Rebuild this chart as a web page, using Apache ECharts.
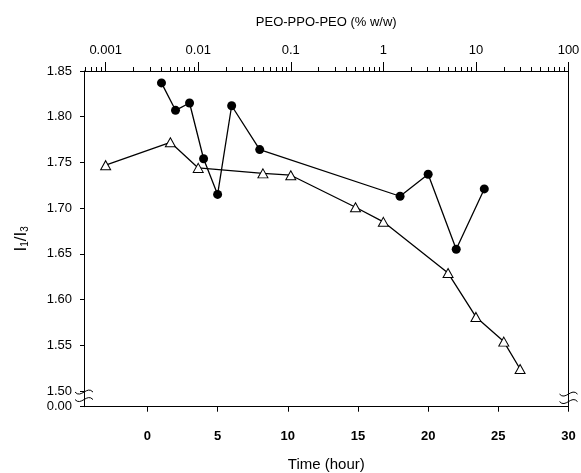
<!DOCTYPE html>
<html><head><meta charset="utf-8">
<script src="https://cdn.jsdelivr.net/npm/echarts@6/dist/echarts.min.js"></script>
<style>html,body{margin:0;padding:0;background:#fff}#c{width:581px;height:473px}</style>
</head><body><div id="c"></div>
<script>
// Filled circles: I1/I3 vs time (bottom axis)
const timeHours = [1, 2, 3, 4, 5, 6, 8, 18, 20, 22, 24];
const ratioVsTime = [1.837, 1.807, 1.815, 1.754, 1.715, 1.812, 1.764, 1.713, 1.737, 1.655, 1.721];
// Open triangles: I1/I3 vs PEO-PPO-PEO concentration (top log axis)
const concentration = [0.001, 0.005, 0.01, 0.05, 0.1, 0.5, 1, 5, 10, 20, 30];
const ratioVsConc = [1.747, 1.772, 1.744, 1.738, 1.736, 1.701, 1.685, 1.629, 1.581, 1.554, 1.524];
// Tick labels
const timeTicks = [0, 5, 10, 15, 20, 25, 30];
const concTicks = [0.001, 0.01, 0.1, 1, 10, 100];
const ratioTicks = [1.50, 1.55, 1.60, 1.65, 1.70, 1.75, 1.80, 1.85];
const breakLabel = '0.00';

const FONT = 'Liberation Sans, Arial, sans-serif';
const timeMin = -4.52, timeMax = 30;
const logMin = -3.234, logMax = 2;
const yMin = 1.4828, yMax = 1.85;

const majorLog = concTicks.map(c => Math.log10(c));
const minorLog = [];
for (let n = -4; n <= 1; n++) {
  for (let k = 2; k <= 9; k++) {
    const v = Math.log10(k * Math.pow(10, n));
    if (v >= logMin && v <= logMax) minorLog.push(v);
  }
}
const yLabelVals = [yMin].concat(ratioTicks);

const chart = echarts.init(document.getElementById('c'), null, {renderer: 'canvas'});
const option = {
  animation: false,
  backgroundColor: '#fff',
  textStyle: {fontFamily: FONT},
  grid: {left: 84, right: 12.5, top: 71, bottom: 66.3, containLabel: false, outerBoundsMode: 'none'},
  xAxis: [
    {
      type: 'value', position: 'bottom', min: timeMin, max: timeMax,
      axisLine: {show: true, onZero: false, lineStyle: {color: '#000', width: 1}},
      axisTick: {show: true, length: 5, inside: false, customValues: timeTicks, lineStyle: {color: '#000'}},
      axisLabel: {customValues: timeTicks, margin: 23, color: '#000', fontSize: 13, fontWeight: 'bold', fontFamily: FONT},
      splitLine: {show: false},
      name: 'Time (hour)', nameLocation: 'middle', nameGap: 51,
      nameTextStyle: {color: '#000', fontSize: 15, fontFamily: FONT}
    },
    {
      type: 'value', position: 'top', min: logMin, max: logMax,
      axisLine: {show: true, onZero: false, lineStyle: {color: '#000', width: 1}},
      axisTick: {show: true, length: 9, inside: false, customValues: majorLog, lineStyle: {color: '#000'}},
      axisLabel: {
        customValues: majorLog, margin: 14, color: '#000', fontSize: 13, fontFamily: FONT,
        formatter: v => {
          const c = concTicks.find(t => Math.abs(Math.log10(t) - v) < 1e-6);
          return c === undefined ? '' : String(c);
        }
      },
      splitLine: {show: false},
      name: 'PEO-PPO-PEO (% w/w)', nameLocation: 'middle', nameGap: 42,
      nameTextStyle: {color: '#000', fontSize: 13, fontFamily: FONT}
    },
    {
      type: 'value', position: 'top', min: logMin, max: logMax,
      axisLine: {show: false, onZero: false},
      axisTick: {show: true, length: 4, inside: false, customValues: minorLog, lineStyle: {color: '#000'}},
      axisLabel: {show: false},
      splitLine: {show: false}
    }
  ],
  yAxis: [
    {
      type: 'value', position: 'left', min: yMin, max: yMax,
      axisLine: {show: true, onZero: false, lineStyle: {color: '#000', width: 1}},
      axisTick: {show: true, length: 4, inside: false, customValues: yLabelVals, lineStyle: {color: '#000'}},
      axisLabel: {
        customValues: yLabelVals, margin: 12, color: '#000', fontSize: 13, fontFamily: FONT,
        formatter: v => (v < 1.49 ? breakLabel : v.toFixed(2))
      },
      splitLine: {show: false},
      name: '{a|I}{b|1}{a|/I}{b|3}', nameLocation: 'middle', nameRotate: 90, nameGap: 54,
      nameTextStyle: {
        color: '#000', fontFamily: FONT,
        rich: {
          a: {fontSize: 17, lineHeight: 18, color: '#000', fontFamily: FONT},
          b: {fontSize: 10, lineHeight: 10, verticalAlign: 'bottom', color: '#000', fontFamily: FONT}
        }
      }
    },
    {
      type: 'value', position: 'right', min: yMin, max: yMax,
      axisLine: {show: true, onZero: false, lineStyle: {color: '#000', width: 1}},
      axisTick: {show: false}, axisLabel: {show: false}, splitLine: {show: false}
    }
  ],
  series: [
    {
      type: 'line', xAxisIndex: 0, yAxisIndex: 0,
      data: timeHours.map((t, i) => [t, ratioVsTime[i]]),
      symbol: 'circle', symbolSize: 9,
      lineStyle: {color: '#000', width: 1.3},
      itemStyle: {color: '#000'},
      emphasis: {disabled: true}, z: 3
    },
    {
      type: 'line', xAxisIndex: 1, yAxisIndex: 0,
      data: concentration.map((c, i) => [Math.log10(c), ratioVsConc[i]]),
      symbol: 'triangle', symbolSize: [10, 9],
      lineStyle: {color: '#000', width: 1.3},
      itemStyle: {color: '#fff', borderColor: '#000', borderWidth: 1},
      emphasis: {disabled: true}, z: 4
    }
  ]
};
chart.setOption(option);

// axis-break squiggles on the left and right frame lines
const xL = chart.convertToPixel({xAxisIndex: 0}, timeMin);
const xR = chart.convertToPixel({xAxisIndex: 0}, timeMax);
const yA = chart.convertToPixel({yAxisIndex: 0}, 1.4988);
const yB = chart.convertToPixel({yAxisIndex: 0}, 1.4906);
function squiggle(x, y) {
  return {
    type: 'bezierCurve', silent: true, z: 100,
    shape: {x1: x - 9, y1: y, x2: x + 9, y2: y, cpx1: x - 3, cpy1: y + 7, cpx2: x + 3, cpy2: y - 7},
    style: {fill: null, stroke: '#000', lineWidth: 1}
  };
}
chart.setOption({
  graphic: [squiggle(xL, yA), squiggle(xL, yB), squiggle(xR, yA + 2), squiggle(xR, yB + 2)]
});
</script>
</body></html>
